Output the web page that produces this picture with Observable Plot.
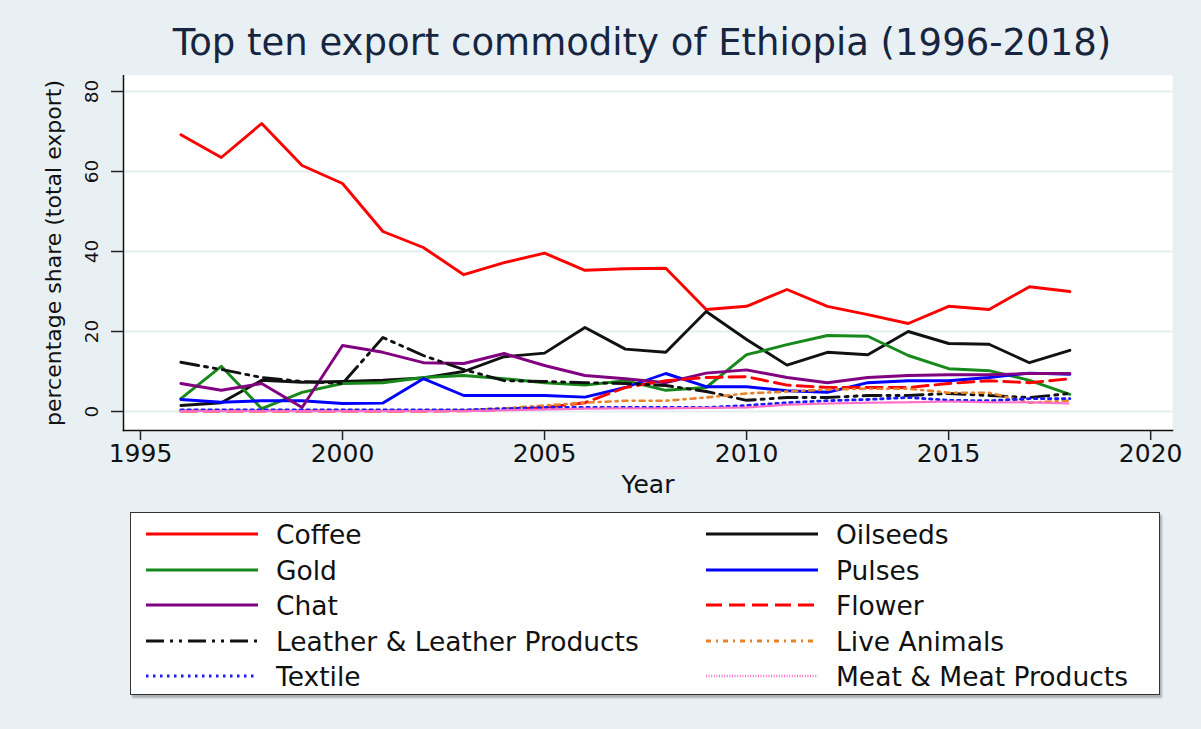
<!DOCTYPE html>
<html>
<head>
<meta charset="utf-8">
<script src="https://cdn.jsdelivr.net/npm/d3@7"></script>
<script src="https://cdn.jsdelivr.net/npm/@observablehq/plot@0.6"></script>
<style>
  html, body { margin: 0; padding: 0; }
  body { background: #e9f0f3; width: 1201px; height: 729px; overflow: hidden; position: relative; font-family: "DejaVu Sans", sans-serif; }
  #title { position: absolute; top: 23px; left: 0; width: 1284px; text-align: center; font-size: 37px; color: #17253f; white-space: nowrap; line-height: 1.1; }
  #chart { position: absolute; top: 75px; left: 0; }
  #legend { position: absolute; left: 130px; top: 512px; width: 1028px; height: 181px; background: #fff; border: 1.5px solid #333; box-shadow: 2px 3px 2px #a9b0b3; }
  .item { position: absolute; height: 30px; display: flex; align-items: center; font-size: 26.5px; color: #111; white-space: nowrap; }
  .item svg { margin-right: 17px; }
</style>
</head>
<body>
<div id="title">Top ten export commodity of Ethiopia (1996-2018)</div>
<div id="chart"></div>
<div id="legend"></div>
<script>
// ---- data ----
const years = [1996,1997,1998,1999,2000,2001,2002,2003,2004,2005,2006,2007,2008,2009,2010,2011,2012,2013,2014,2015,2016,2017,2018];
const coffee   = [69.2,63.5,72.0,61.5,57.0,45.0,41.0,34.2,37.2,39.6,35.3,35.7,35.8,25.5,26.3,30.5,26.3,24.2,22.0,26.3,25.5,31.2,30.0];
const oilseeds = [1.5,2.2,7.8,7.3,7.5,7.8,8.4,10.0,13.7,14.6,21.0,15.6,14.8,25.0,18.0,11.6,14.8,14.2,20.0,17.0,16.8,12.2,15.3];
const gold     = [3.2,11.3,0.7,4.8,7.0,7.2,8.5,9.0,8.2,7.2,6.6,7.7,5.3,6.0,14.2,16.7,19.0,18.8,14.0,10.7,10.2,7.8,4.3];
const pulses   = [3.0,2.3,2.7,2.7,2.0,2.1,8.2,4.0,4.0,4.0,3.6,6.0,9.5,6.2,6.2,5.2,4.8,7.2,7.7,7.7,8.5,9.6,9.3];
const chat     = [7.0,5.3,7.0,1.0,16.5,14.8,12.2,12.0,14.5,11.5,9.0,8.2,7.2,9.6,10.4,8.5,7.2,8.5,9.0,9.2,9.2,9.5,9.5];
const flower   = [0.1,0.1,0.1,0.1,0.1,0.1,0.1,0.2,0.5,1.0,2.2,6.0,7.7,8.5,8.7,6.6,6.0,6.0,6.0,7.0,7.7,7.2,8.2];
const leather  = [12.3,10.5,8.5,7.5,7.0,18.5,14.0,10.5,7.7,7.5,7.2,7.0,6.5,5.0,2.8,3.5,3.5,4.0,4.0,4.5,4.0,3.5,4.5];
const liveAnimals = [0.2,0.2,0.2,0.2,0.2,0.2,0.2,0.3,0.8,1.5,2.2,2.7,2.7,3.5,4.5,5.0,5.5,5.7,5.7,4.7,4.7,2.2,2.7];
const textile  = [0.4,0.4,0.4,0.4,0.4,0.4,0.4,0.4,0.7,1.0,1.0,1.0,1.0,1.0,1.5,2.2,2.7,3.0,3.5,2.8,2.7,3.2,3.2];
const meat     = [0.1,0.1,0.1,0.1,0.1,0.1,0.1,0.1,0.3,0.5,0.7,0.8,0.8,0.9,1.0,1.7,2.0,2.2,2.3,2.5,2.3,2.3,2.0];

const seriesNames  = ["Coffee","Oilseeds","Gold","Pulses","Chat","Flower","Leather & Leather Products","Live Animals","Textile","Meat & Meat Products"];
const seriesValues = [coffee, oilseeds, gold, pulses, chat, flower, leather, liveAnimals, textile, meat];
const seriesColors = ["#ff0000","#111111","#16891a","#0000ff","#800080","#ff0000","#111111","#e8822a","#1a1aff","#ff6fc8"];
const seriesDashes = [null, null, null, null, null, "16,7", "18,6,3,6,3,6", "5,5,2,5", "2.5,4.5", "1,1.6"];
const seriesWidths = [2.9, 2.9, 2.9, 2.9, 2.9, 2.9, 2.9, 2.6, 2.8, 2.3];

const xTicks = [1995, 2000, 2005, 2010, 2015, 2020];
const yTicks = [0, 20, 40, 60, 80];
const xLabel = "Year";
const yLabel = "percentage share (total export)";

// ---- chart ----
const lineMarks = seriesNames.map((name, i) =>
  Plot.line(years.map((y, j) => ({year: y, value: seriesValues[i][j]})), {
    x: "year", y: "value",
    stroke: seriesColors[i],
    strokeWidth: seriesWidths[i],
    strokeDasharray: seriesDashes[i] ?? undefined,
    strokeLinejoin: "round"
  })
);

const chart = Plot.plot({
  width: 1201,
  height: 432,
  marginLeft: 123,
  marginRight: 29,
  marginTop: 0,
  marginBottom: 77,
  style: { background: "transparent", fontFamily: "DejaVu Sans, sans-serif", color: "#111" },
  x: { domain: [1994.58, 2020.54] },
  y: { domain: [-4.75, 84] },
  marks: [
    Plot.frame({ fill: "white", stroke: "none" }),
    Plot.gridY(yTicks, { stroke: "#e4edf0", strokeOpacity: 1, strokeWidth: 2 }),
    ...lineMarks,
    Plot.frame({ anchor: "left", stroke: "#111", strokeWidth: 1.5 }),
    Plot.frame({ anchor: "bottom", stroke: "#111", strokeWidth: 1.5 }),
    Plot.axisX(xTicks, {
      tickSize: 10, tickPadding: 4, fontSize: 25, tickFormat: d => String(d),
      label: xLabel, labelAnchor: "center", labelArrow: "none", labelOffset: 62, stroke: "#222", strokeWidth: 1.5
    }),
    Plot.axisY(yTicks, {
      tickSize: 12, tickPadding: 14, fontSize: 18.5, tickRotate: -90,
      label: yLabel, labelAnchor: "center", labelArrow: "none", labelOffset: 78, stroke: "#222", strokeWidth: 1.5
    })
  ]
});
document.getElementById("chart").appendChild(chart);
chart.querySelectorAll("g[aria-label='x-axis label'] text").forEach(t => t.setAttribute("font-size", 25));
chart.querySelectorAll("g[aria-label='y-axis label'] text").forEach(t => t.setAttribute("font-size", 22));

// ---- legend ----
const legend = document.getElementById("legend");
const rowTops = [6, 42, 77, 113, 148];
seriesNames.forEach((name, i) => {
  const col = i % 2, row = Math.floor(i / 2);
  const div = document.createElement("div");
  div.className = "item";
  div.style.left = (col === 0 ? 14 : 574) + "px";
  div.style.top = rowTops[row] + "px";
  const svg = d3.create("svg").attr("width", 114).attr("height", 10);
  svg.append("line").attr("x1", 1).attr("x2", 113).attr("y1", 5).attr("y2", 5)
    .attr("stroke", seriesColors[i]).attr("stroke-width", seriesWidths[i] + 0.3)
    .attr("stroke-dasharray", seriesDashes[i]);
  div.appendChild(svg.node());
  const span = document.createElement("span");
  span.textContent = name;
  div.appendChild(span);
  legend.appendChild(div);
});
</script>
</body>
</html>
